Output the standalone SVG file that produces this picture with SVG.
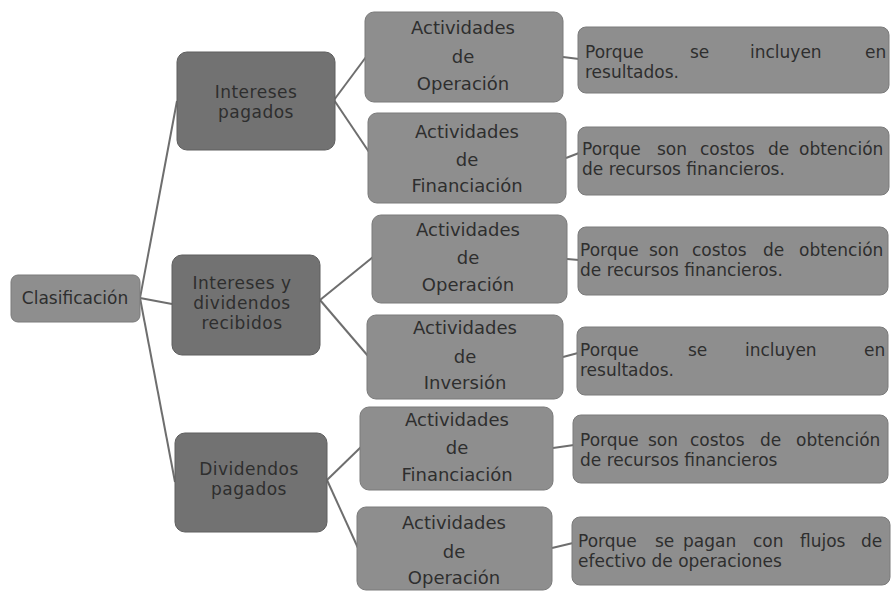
<svg xmlns="http://www.w3.org/2000/svg" width="891" height="592" viewBox="0 0 891 592">
<style>
.bg{fill:#ffffff}
.l1{fill:#727272;stroke:#5e5e5e;stroke-width:1}
.l2{fill:#8e8e8e;stroke:#7a7a7a;stroke-width:1}
.l3{fill:#8e8e8e;stroke:#7a7a7a;stroke-width:1}
text{font-family:"DejaVu Sans","Liberation Sans",sans-serif;fill:#2e2e2e}
.c{text-anchor:middle}
.t1{font-size:17px;letter-spacing:0.5px}
.t2{font-size:18px}
.t3{font-size:17px}
.conn line{stroke:#6e6e6e;stroke-width:2}
</style>
<rect class="bg" x="0" y="0" width="891" height="592"/>
<g class="conn" id="connectors">
<line x1="140" y1="298" x2="177" y2="101"/>
<line x1="140" y1="298" x2="172" y2="304"/>
<line x1="140" y1="298" x2="175" y2="482"/>
<line x1="334" y1="100" x2="366" y2="57"/>
<line x1="334" y1="100" x2="369" y2="152"/>
<line x1="320" y1="300" x2="373" y2="257"/>
<line x1="320" y1="300" x2="368" y2="356"/>
<line x1="327" y1="480" x2="361" y2="447"/>
<line x1="327" y1="480" x2="358" y2="548"/>
<line x1="563" y1="57" x2="579" y2="59"/>
<line x1="566" y1="158" x2="579" y2="153"/>
<line x1="567" y1="259" x2="579" y2="260"/>
<line x1="563" y1="357" x2="578" y2="353"/>
<line x1="553" y1="448" x2="574" y2="445"/>
<line x1="552" y1="548" x2="573" y2="543"/>
</g>
<g id="clasificacion">
<rect class="l2" x="11" y="275" width="129" height="47" rx="7"/>
<text class="c" x="75" y="304" font-size="17">Clasificación</text>
</g>
<g id="intereses-pagados">
<rect class="l1" x="177" y="52" width="158" height="98" rx="10"/>
<text class="c t1" x="256" y="98">Intereses</text>
<text class="c t1" x="256" y="118">pagados</text>
</g>
<g id="intereses-recibidos">
<rect class="l1" x="172" y="255" width="148" height="100" rx="10"/>
<text class="c t1" x="242" y="289">Intereses y</text>
<text class="c t1" x="242" y="309">dividendos</text>
<text class="c t1" x="242" y="329">recibidos</text>
</g>
<g id="dividendos-pagados">
<rect class="l1" x="175" y="433" width="152" height="99" rx="10"/>
<text class="c t1" x="249" y="475">Dividendos</text>
<text class="c t1" x="249" y="495">pagados</text>
</g>
<g id="act-op-1">
<rect class="l2" x="365" y="12" width="198" height="90" rx="9"/>
<text class="c t2" x="463" y="34">Actividades</text>
<text class="c t2" x="463" y="63">de</text>
<text class="c t2" x="463" y="90">Operación</text>
</g>
<g id="act-fin-1">
<rect class="l2" x="368" y="113" width="198" height="90" rx="9"/>
<text class="c t2" x="467" y="138">Actividades</text>
<text class="c t2" x="467" y="166">de</text>
<text class="c t2" x="467" y="192">Financiación</text>
</g>
<g id="act-op-2">
<rect class="l2" x="372" y="215" width="195" height="88" rx="9"/>
<text class="c t2" x="468" y="236">Actividades</text>
<text class="c t2" x="468" y="264">de</text>
<text class="c t2" x="468" y="291">Operación</text>
</g>
<g id="act-inv">
<rect class="l2" x="367" y="315" width="196" height="84" rx="9"/>
<text class="c t2" x="465" y="334">Actividades</text>
<text class="c t2" x="465" y="363">de</text>
<text class="c t2" x="465" y="389">Inversión</text>
</g>
<g id="act-fin-2">
<rect class="l2" x="360" y="407" width="193" height="83" rx="9"/>
<text class="c t2" x="457" y="426">Actividades</text>
<text class="c t2" x="457" y="454">de</text>
<text class="c t2" x="457" y="481">Financiación</text>
</g>
<g id="act-op-3">
<rect class="l2" x="357" y="507" width="195" height="83" rx="9"/>
<text class="c t2" x="454" y="529">Actividades</text>
<text class="c t2" x="454" y="558">de</text>
<text class="c t2" x="454" y="584">Operación</text>
</g>
<g id="razon-1">
<rect class="l3" x="578" y="27" width="311" height="66" rx="8"/>
<text class="t3" y="58"><tspan x="585">Porque</tspan><tspan x="690">se</tspan><tspan x="750">incluyen</tspan><tspan x="865">en</tspan></text>
<text class="t3" x="585" y="78">resultados.</text>
</g>
<g id="razon-2">
<rect class="l3" x="578" y="127" width="311" height="68" rx="8"/>
<text class="t3" y="155"><tspan x="582">Porque</tspan><tspan x="657">son</tspan><tspan x="700">costos</tspan><tspan x="768">de</tspan><tspan x="799">obtención</tspan></text>
<text class="t3" x="582" y="175">de recursos financieros.</text>
</g>
<g id="razon-3">
<rect class="l3" x="578" y="227" width="310" height="68" rx="8"/>
<text class="t3" y="256"><tspan x="580">Porque</tspan><tspan x="649">son</tspan><tspan x="692">costos</tspan><tspan x="763">de</tspan><tspan x="799">obtención</tspan></text>
<text class="t3" x="580" y="276">de recursos financieros.</text>
</g>
<g id="razon-4">
<rect class="l3" x="577" y="327" width="311" height="68" rx="8"/>
<text class="t3" y="356"><tspan x="580">Porque</tspan><tspan x="688">se</tspan><tspan x="745">incluyen</tspan><tspan x="864">en</tspan></text>
<text class="t3" x="580" y="376">resultados.</text>
</g>
<g id="razon-5">
<rect class="l3" x="573" y="415" width="315" height="68" rx="8"/>
<text class="t3" y="446"><tspan x="580">Porque</tspan><tspan x="648">son</tspan><tspan x="690">costos</tspan><tspan x="760">de</tspan><tspan x="796">obtención</tspan></text>
<text class="t3" x="580" y="466">de recursos financieros</text>
</g>
<g id="razon-6">
<rect class="l3" x="572" y="517" width="318" height="68" rx="8"/>
<text class="t3" y="547"><tspan x="578">Porque</tspan><tspan x="655">se</tspan><tspan x="683">pagan</tspan><tspan x="753">con</tspan><tspan x="800">flujos</tspan><tspan x="861">de</tspan></text>
<text class="t3" x="578" y="567">efectivo de operaciones</text>
</g>
</svg>
